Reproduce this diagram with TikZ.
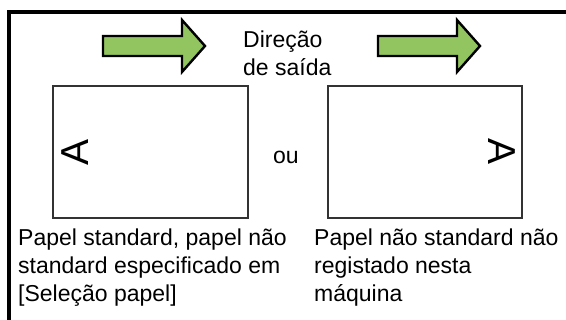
\documentclass[tikz,border=0pt]{standalone}
\usepackage{fontspec}
\setmainfont{Liberation Sans}
\usetikzlibrary{positioning}
\definecolor{arrowgreen}{RGB}{146,196,96}
\definecolor{sheetgray}{RGB}{51,51,51}

\begin{document}
\begin{tikzpicture}[x=1pt, y=-1pt,
    every node/.style={inner sep=0pt, font=\fontsize{23}{28}\selectfont},
    sheet/.style={draw=sheetgray, line width=1.6pt, minimum width=195pt, minimum height=132pt},
    letter/.style={font=\fontsize{39}{39}\selectfont},
    caption/.style={align=left, anchor=north west}]
  \useasboundingbox (0,0) rectangle (566,320);
  \draw[line width=3.2pt] (9,322) -- (9,12) -- (568,12);

  % output direction arrows
  \foreach \x in {103,378}
    \draw[fill=arrowgreen, line width=2.4pt, line join=miter]
      (\x,36) -- ++(79,0) -- ++(0,-16) -- ++(23,26) -- ++(-23,26) -- ++(0,-16) -- ++(-79,0) -- cycle;
  \node[caption] (dir) at (243,31) {Direção\\de saída};

  % paper sheets
  \node[sheet] (sheetL) at (150.5,152) {};
  \node[sheet, minimum width=194pt] (sheetR) at (425,152) {};
  \node[letter, rotate=90, anchor=north] (aL) at ([xshift=9pt]sheetL.west) {A};
  \node[letter, rotate=-90, anchor=north] (aR) at ([xshift=-7pt]sheetR.east) {A};
  \node (or) at (286,157) {ou};

  \node[caption] (capL) at (18,229) {Papel standard, papel não\\standard especificado em\\{[Seleção papel]}};
  \node[caption] (capR) at (314,229) {Papel não standard não\\registado nesta\\máquina};
\end{tikzpicture}
\end{document}
